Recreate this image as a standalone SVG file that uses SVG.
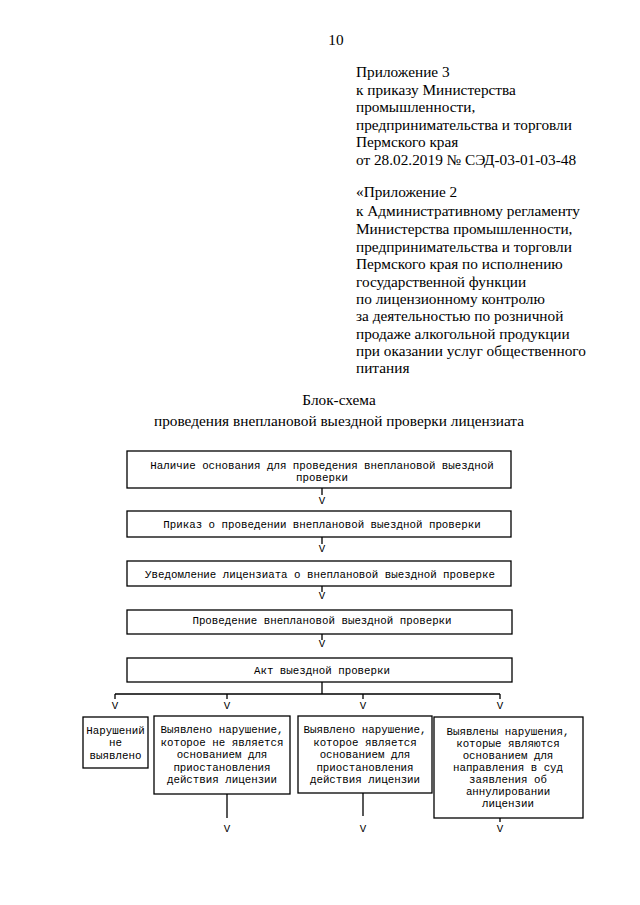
<svg xmlns="http://www.w3.org/2000/svg" width="640" height="905" viewBox="0 0 640 905">
<style>
.hd{font-family:"Liberation Serif","Times New Roman",serif;font-size:15.3px;fill:#000}
.tt{font-family:"Liberation Serif","Times New Roman",serif;font-size:15.3px;fill:#000;text-anchor:middle}
.bx{fill:#fff;stroke:#000;stroke-width:1.3}
.mt{font-family:"Liberation Mono","Courier New",monospace;font-size:10.8px;fill:#000;text-anchor:middle}
.ln{stroke:#000;stroke-width:1.3;fill:none}
</style>
<rect width="640" height="905" fill="#fff"/>
<text class="tt" x="336" y="45">10</text>
<g id="header">
<text class="hd" x="356" y="77">Приложение 3</text>
<text class="hd" x="356" y="95">к приказу Министерства</text>
<text class="hd" x="356" y="112">промышленности,</text>
<text class="hd" x="356" y="130">предпринимательства и торговли</text>
<text class="hd" x="356" y="147">Пермского края</text>
<text class="hd" x="356" y="165">от 28.02.2019 № СЭД-03-01-03-48</text>
<text class="hd" x="356" y="197">«Приложение 2</text>
<text class="hd" x="356" y="216">к Административному регламенту</text>
<text class="hd" x="356" y="234">Министерства промышленности,</text>
<text class="hd" x="356" y="252">предпринимательства и торговли</text>
<text class="hd" x="356" y="269">Пермского края по исполнению</text>
<text class="hd" x="356" y="287">государственной функции</text>
<text class="hd" x="356" y="304">по лицензионному контролю</text>
<text class="hd" x="356" y="321">за деятельностью по розничной</text>
<text class="hd" x="356" y="339">продаже алкогольной продукции</text>
<text class="hd" x="356" y="356">при оказании услуг общественного</text>
<text class="hd" x="356" y="373">питания</text>
</g>
<g id="title">
<text class="tt" x="339" y="405">Блок-схема</text>
<text class="tt" x="339" y="426">проведения внеплановой выездной проверки лицензиата</text>
</g>
<g id="n1"><rect class="bx" x="127" y="451" width="384" height="37"/>
<text class="mt" x="322" y="468.5">Наличие основания для проведения внеплановой выездной</text>
<text class="mt" x="322" y="480.5">проверки</text></g>
<g id="n2"><rect class="bx" x="127" y="511" width="384" height="26"/>
<text class="mt" x="322" y="528">Приказ о проведении внеплановой выездной проверки</text></g>
<g id="n3"><rect class="bx" x="127" y="561" width="384" height="25"/>
<text class="mt" x="320" y="578">Уведомление лицензиата о внеплановой выездной проверке</text></g>
<g id="n4"><rect class="bx" x="127" y="610" width="385" height="24"/>
<text class="mt" x="322" y="624">Проведение внеплановой выездной проверки</text></g>
<g id="n5"><rect class="bx" x="127" y="658" width="385" height="24"/>
<text class="mt" x="322" y="674">Акт выездной проверки</text></g>
<g id="nA"><rect class="bx" x="83" y="717" width="65" height="51"/>
<text class="mt" x="115.5" y="734">Нарушений</text>
<text class="mt" x="115.5" y="746">не</text>
<text class="mt" x="115.5" y="758.5">выявлено</text></g>
<g id="nB"><rect class="bx" x="154" y="716" width="136" height="78"/>
<text class="mt" x="222" y="733">Выявлено нарушение,</text>
<text class="mt" x="222" y="745.5">которое не является</text>
<text class="mt" x="222" y="758">основанием для</text>
<text class="mt" x="222" y="770.5">приостановления</text>
<text class="mt" x="222" y="783">действия лицензии</text></g>
<g id="nC"><rect class="bx" x="298" y="716" width="134" height="77"/>
<text class="mt" x="365" y="733">Выявлено нарушение,</text>
<text class="mt" x="365" y="745.5">которое является</text>
<text class="mt" x="365" y="758">основанием для</text>
<text class="mt" x="365" y="770.5">приостановления</text>
<text class="mt" x="365" y="783">действия лицензии</text></g>
<g id="nD"><rect class="bx" x="434" y="717" width="149" height="101"/>
<text class="mt" x="508" y="735">Выявлены нарушения,</text>
<text class="mt" x="508" y="747">которые являются</text>
<text class="mt" x="508" y="759">основанием для</text>
<text class="mt" x="508" y="771">направления в суд</text>
<text class="mt" x="508" y="783">заявления об</text>
<text class="mt" x="508" y="795">аннулировании</text>
<text class="mt" x="508" y="807">лицензии</text></g>
<g id="connectors">
<path class="ln" d="M322 488V495M322 537V544M322 586V592M322 634V640M322 682V694M115 694H500M115 694V699M227 694V699M363 694V699M500 694V699M227 794V818M363 793V816M500 818V822"/>
<text class="mt" x="322" y="504">V</text>
<text class="mt" x="322" y="552">V</text>
<text class="mt" x="322" y="599">V</text>
<text class="mt" x="322" y="647">V</text>
<text class="mt" x="115" y="709">V</text>
<text class="mt" x="227" y="709">V</text>
<text class="mt" x="363" y="709">V</text>
<text class="mt" x="500" y="709">V</text>
<text class="mt" x="227" y="832">V</text>
<text class="mt" x="363" y="832">V</text>
<text class="mt" x="500" y="832">V</text>
</g>
</svg>
